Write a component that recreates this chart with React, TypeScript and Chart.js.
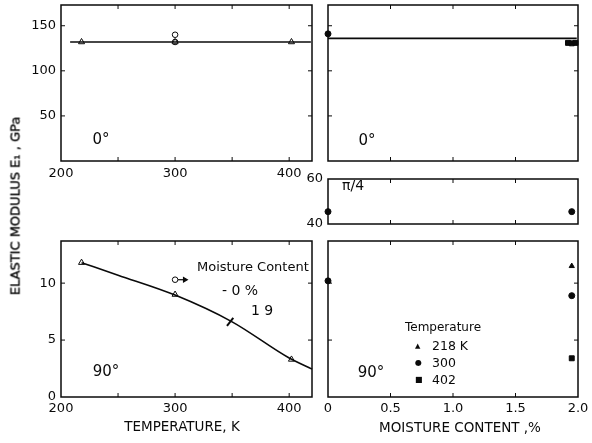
import React, { useEffect, useRef } from "react";
import { Chart, registerables } from "chart.js";

Chart.register(...registerables);

// ---------- data ----------
// 0° modulus vs temperature (K)
const tempTriX = [218, 300, 402];
const e0TempTri = [132, 132, 132];
const tempCircX = [300, 300];
const e0TempCirc = [140, 132];
const e0TempFitX = [208, 419];
const e0TempFitY = [132, 132];

// 0° modulus vs moisture content (%)
const moistDryX = [0];
const e0MoistDot = [141];
const moistWetSqX = [1.92, 1.95, 1.98];
const e0MoistSq = [131, 130.5, 131];
const e0MoistFitX = [0, 1.99];
const e0MoistFitY = [136, 136];

// π/4 modulus vs moisture content
const e45MoistX = [0, 1.95];
const e45MoistDot = [45.5, 45.5];

// 90° modulus vs temperature
const e90TempTri = [11.8, 9.0, 3.3];
const e90TempCircX = [300];
const e90TempCirc = [10.3];
const e90CurveX = [218, 250, 300, 350, 400, 420];
const e90CurveY = [11.8, 10.7, 8.95, 6.6, 3.42, 2.45];
const arrowX = [302.5, 308.5];
const arrowY = [10.3, 10.3];
const leaderX = [345.5, 351];
const leaderY = [6.25, 6.95];

// 90° modulus vs moisture content
const e90DryX = [0];
const e90DryDot = [10.2];
const e90WetX = [1.95];
const e90Wet218 = [11.5];
const e90Wet300 = [8.9];
const e90Wet402 = [3.4];

// tick labels
const tempTickLabels = ["200", "300", "400"];
const moistTickLabels = ["0", "0.5", "1.0", "1.5", "2.0"];

// ---------- styling / layout ----------
const W = 592;
const H = 443;
const INK = "#0a0a0a";
const FONT = "DejaVu Sans";
const YW = 40;
const XH = 30;

type Box = { l: number; t: number; r: number; b: number };

const xy = (xs: number[], ys: number[]) => xs.map((x, i) => ({ x, y: ys[i] }));

const pts = (xs: number[], ys: number[], style: string, filled: boolean, r: number) => ({
  data: xy(xs, ys),
  showLine: false,
  pointStyle: style,
  pointRadius: r,
  pointBackgroundColor: filled ? INK : "#ffffff",
  pointBorderColor: INK,
  pointBorderWidth: 1,
  clip: false,
});

const line = (xs: number[], ys: number[], w: number, smooth = false) => ({
  data: xy(xs, ys),
  showLine: true,
  borderColor: INK,
  borderWidth: w,
  pointRadius: 0,
  cubicInterpolationMode: smooth ? "monotone" : "default",
  tension: smooth ? 0.4 : 0,
  clip: false,
});

function axis(
  min: number,
  max: number,
  step: number,
  fmt: (v: number) => string,
  pad: number,
  isY: boolean
) {
  return {
    type: "linear",
    min,
    max,
    grid: { display: false, drawTicks: false },
    border: { display: false },
    ticks: {
      stepSize: step,
      includeBounds: false,
      autoSkip: false,
      maxRotation: 0,
      padding: pad,
      color: INK,
      font: { family: FONT, size: 13 },
      callback: (v: any) => fmt(Number(v)),
    },
    afterFit: (s: any) => {
      if (isY) s.width = YW;
      else s.height = XH;
      s.paddingLeft = 0;
      s.paddingRight = 0;
      s.paddingTop = 0;
      s.paddingBottom = 0;
    },
  };
}

const framePlugin = {
  id: "frame",
  afterDraw(chart: any) {
    const { ctx, chartArea: a, scales } = chart;
    ctx.save();
    ctx.strokeStyle = INK;
    ctx.lineWidth = 1.5;
    ctx.strokeRect(a.left, a.top, a.right - a.left, a.bottom - a.top);
    ctx.lineWidth = 1;
    const L = 4;
    const seg = (x1: number, y1: number, x2: number, y2: number) => {
      ctx.beginPath();
      ctx.moveTo(x1, y1);
      ctx.lineTo(x2, y2);
      ctx.stroke();
    };
    const xs = scales.x;
    const ys = scales.y;
    xs.ticks.forEach((t: any) => {
      const p = xs.getPixelForValue(t.value);
      if (p <= a.left + 2 || p >= a.right - 2) return;
      seg(p, a.bottom, p, a.bottom - L);
      seg(p, a.top, p, a.top + L);
    });
    ys.ticks.forEach((t: any) => {
      const p = ys.getPixelForValue(t.value);
      if (p <= a.top + 2 || p >= a.bottom - 2) return;
      seg(a.left, p, a.left + L, p);
      seg(a.right, p, a.right - L, p);
    });
    ctx.restore();
  },
};

function makeConfig(box: Box, x: any, y: any, datasets: any[]) {
  return {
    type: "scatter",
    data: { datasets },
    options: {
      responsive: false,
      animation: false,
      events: [],
      layout: {
        padding: {
          left: box.l - YW,
          top: box.t,
          right: W - box.r,
          bottom: H - box.b - XH,
        },
      },
      plugins: { legend: { display: false }, tooltip: { enabled: false } },
      scales: { x, y },
    },
    plugins: [framePlugin],
  };
}

const tempFmt = (v: number) => (tempTickLabels.includes(String(v)) ? String(v) : "");
const moistFmt = (v: number) => {
  const s = v === 0 ? "0" : v.toFixed(1);
  return moistTickLabels.includes(s) ? s : "";
};
const none = () => "";

const BOX_TL: Box = { l: 61, t: 5, r: 312, b: 161 };
const BOX_TR: Box = { l: 328, t: 5, r: 578, b: 161 };
const BOX_MR: Box = { l: 328, t: 179, r: 578, b: 224 };
const BOX_BL: Box = { l: 61, t: 241, r: 312, b: 397 };
const BOX_BR: Box = { l: 328, t: 241, r: 578, b: 397 };

const configs = [
  () =>
    makeConfig(
      BOX_TL,
      axis(200, 420, 50, tempFmt, 5, false),
      axis(0, 173, 50, (v) => (v > 0 ? String(v) : ""), 5, true),
      [
        line(e0TempFitX, e0TempFitY, 1.6),
        pts(tempTriX, e0TempTri, "triangle", false, 3.5),
        pts(tempCircX, e0TempCirc, "circle", false, 2.8),
      ]
    ),
  () =>
    makeConfig(
      BOX_TR,
      axis(0, 2, 0.5, none, 5, false),
      axis(0, 173, 50, none, 5, true),
      [
        line(e0MoistFitX, e0MoistFitY, 1.6),
        pts(moistDryX, e0MoistDot, "circle", true, 3),
        pts(moistWetSqX, e0MoistSq, "rect", true, 3.5),
      ]
    ),
  () =>
    makeConfig(
      BOX_MR,
      axis(0, 2, 0.5, none, 5, false),
      axis(40, 60, 20, (v) => String(v), 5, true),
      [pts(e45MoistX, e45MoistDot, "circle", true, 3)]
    ),
  () =>
    makeConfig(
      BOX_BL,
      axis(200, 420, 50, tempFmt, 4, false),
      axis(0, 13.7, 5, (v) => String(v), 5, true),
      [
        line(e90CurveX, e90CurveY, 1.6, true),
        line(leaderX, leaderY, 2),
        {
          ...line(arrowX, arrowY, 1.2),
          pointRadius: [0, 2.5],
          pointStyle: "triangle",
          pointRotation: 90,
          pointBackgroundColor: INK,
          pointBorderColor: INK,
        },
        pts(tempTriX, e90TempTri, "triangle", false, 3.5),
        pts(e90TempCircX, e90TempCirc, "circle", false, 2.8),
      ]
    ),
  () =>
    makeConfig(
      BOX_BR,
      axis(0, 2, 0.5, moistFmt, 4, false),
      axis(0, 13.7, 5, none, 5, true),
      [
        pts(e90DryX, e90DryDot, "circle", true, 3),
        pts(e90WetX, e90Wet218, "triangle", true, 3),
        pts(e90WetX, e90Wet300, "circle", true, 3),
        pts(e90WetX, e90Wet402, "rect", true, 3.5),
      ]
    ),
];

function Panel({ make }: { make: () => any }) {
  const ref = useRef<HTMLCanvasElement>(null);
  useEffect(() => {
    const chart = new Chart(ref.current as HTMLCanvasElement, make() as any);
    return () => chart.destroy();
  }, [make]);
  return (
    <canvas
      ref={ref}
      width={W}
      height={H}
      style={{ position: "absolute", left: 0, top: 0, width: W, height: H }}
    />
  );
}

function Txt({
  x,
  y,
  size,
  children,
  align = "center",
  rotate = 0,
  stroke = 0,
}: {
  x: number;
  y: number;
  size: number;
  children: React.ReactNode;
  align?: "center" | "left";
  rotate?: number;
  stroke?: number;
}) {
  const tx = align === "center" ? "-50%" : "0";
  return (
    <div
      style={{
        position: "absolute",
        left: x,
        top: y,
        transform: `translate(${tx}, -50%) rotate(${rotate}deg)`,
        transformOrigin: align === "center" ? "50% 50%" : "0 50%",
        fontFamily: FONT,
        fontSize: size,
        color: INK,
        whiteSpace: "nowrap",
        lineHeight: 1,
        WebkitTextStroke: stroke ? `${stroke}px ${INK}` : undefined,
      }}
    >
      {children}
    </div>
  );
}

export default function App() {
  return (
    <div
      style={{
        position: "fixed",
        left: 0,
        top: 0,
        width: W,
        height: H,
        background: "#ffffff",
        overflow: "hidden",
      }}
    >
      {configs.map((m, i) => (
        <Panel key={i} make={m} />
      ))}
      <Txt x={15} y={206} size={13} rotate={-90} stroke={0.35}>
        ELASTIC MODULUS E₁ , GPa
      </Txt>
      <Txt x={182} y={427} size={13.5}>
        TEMPERATURE, K
      </Txt>
      <Txt x={460} y={428} size={13.5}>
        MOISTURE CONTENT ,%
      </Txt>
      <Txt x={101} y={139} size={15}>
        0°
      </Txt>
      <Txt x={367} y={140} size={15}>
        0°
      </Txt>
      <Txt x={342} y={185} size={14} align="left">
        π/4
      </Txt>
      <Txt x={106} y={371} size={15}>
        90°
      </Txt>
      <Txt x={371} y={372} size={15}>
        90°
      </Txt>
      <Txt x={197} y={266} size={13} align="left">
        Moisture Content
      </Txt>
      <Txt x={222} y={290} size={14} align="left">
        -&nbsp;0 %
      </Txt>
      <Txt x={251} y={310} size={14} align="left">
        1 9
      </Txt>
      <Txt x={405} y={327} size={12} align="left">
        Temperature
      </Txt>
      <Txt x={415} y={346} size={7} align="left">
        ▲
      </Txt>
      <Txt x={432} y={346} size={12.5} align="left">
        218 K
      </Txt>
      <Txt x={415} y={363} size={8} align="left">
        ●
      </Txt>
      <Txt x={432} y={363} size={12.5} align="left">
        300
      </Txt>
      <Txt x={415} y={380} size={8} align="left">
        ■
      </Txt>
      <Txt x={432} y={380} size={12.5} align="left">
        402
      </Txt>
    </div>
  );
}
